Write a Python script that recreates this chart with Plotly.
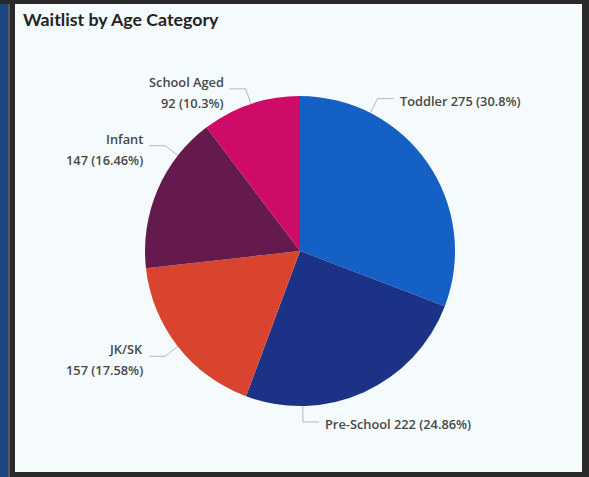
import math
import plotly.graph_objects as go

# Waitlist counts by age category (clockwise from 12 o'clock)
categories = ["Toddler", "Pre-School", "JK/SK", "Infant", "School Aged"]
waitlist = [275, 222, 157, 147, 92]
colors = ["#1460c4", "#1b3286", "#d9442f", "#641a4c", "#cf0b68"]

W, H = 589, 477
CX, CY, R = 300, 251, 155          # pie centre / radius in pixels
BG = "#f5fbfc"
LABEL_FONT = dict(family="Open Sans", size=12.8, color="#484848", weight=600)

# label layout: angle where the leader leaves the pie (deg clockwise from top),
# side the label sits on, and whether name and value share one line
label_layout = {
    "Toddler":     dict(angle=27,    side="right", one_line=True),
    "Pre-School":  dict(angle=179,   side="right", one_line=True),
    "JK/SK":       dict(angle=232,   side="left",  one_line=False),
    "Infant":      dict(angle=308,   side="left",  one_line=False),
    "School Aged": dict(angle=341.5, side="left",  one_line=False),
}


def px(x):
    return x / W


def py(y):
    return 1 - y / H


total = sum(waitlist)


def pct(v):
    return f"{100 * v / total:.2f}".rstrip("0").rstrip(".") + "%"


fig = go.Figure(
    go.Pie(
        labels=categories,
        values=waitlist,
        marker=dict(colors=colors, line=dict(width=0)),
        sort=False,
        direction="clockwise",
        rotation=0,
        textinfo="none",
        hoverinfo="label+value+percent",
        showlegend=False,
        domain=dict(x=[px(CX - R), px(CX + R)], y=[py(CY + R), py(CY - R)]),
    )
)

shapes = []
annotations = []

# leader lines and data labels
for name, val in zip(categories, waitlist):
    lay = label_layout[name]
    a = math.radians(lay["angle"])
    sx, sy = CX + R * math.sin(a), CY - R * math.cos(a)
    ex, ey = CX + (R + 16) * math.sin(a), CY - (R + 16) * math.cos(a)
    sign = 1 if lay["side"] == "right" else -1
    hx = ex + sign * 16
    shapes.append(dict(
        type="path", xref="paper", yref="paper",
        path=f"M {px(sx)},{py(sy)} L {px(ex)},{py(ey)} L {px(hx)},{py(ey)}",
        line=dict(color="#b4b8ba", width=1),
    ))
    tx = hx + sign * 4
    anchor = "left" if sign > 0 else "right"
    if lay["one_line"]:
        annotations.append(dict(
            x=px(tx), y=py(ey + 2), xref="paper", yref="paper",
            text=f"{name} {val} ({pct(val)})", showarrow=False,
            xanchor=anchor, yanchor="middle", font=LABEL_FONT,
        ))
    else:
        for i, line in enumerate([name, f"{val} ({pct(val)})"]):
            annotations.append(dict(
                x=px(tx), y=py(ey - 7 + 21 * i), xref="paper", yref="paper",
                text=line, showarrow=False, xanchor=anchor, yanchor="middle",
                font=LABEL_FONT, align="right",
            ))

# title
annotations.append(dict(
    x=px(21), y=py(19), xref="paper", yref="paper",
    text="<b>Waitlist by Age Category</b>", showarrow=False,
    xanchor="left", yanchor="middle",
    font=dict(family="Lato", size=17.8, color="#232323"),
))

# visual frame
def rect(x0, y0, x1, y1, color):
    return dict(type="rect", xref="paper", yref="paper",
                x0=px(x0), x1=px(x1), y0=py(y1), y1=py(y0),
                fillcolor=color, line=dict(width=0), layer="above")


shapes += [
    rect(0, 0, 8, H, "#1d4580"),
    rect(8, 0, 10, H, "#555a60"),
    rect(10, 0, 15, H, "#2a2a2a"),
    rect(0, 0, W, 4, "#2a2a2a"),
    rect(582, 0, W, H, "#2a2a2a"),
    rect(10, 472, W, H, "#2a2a2a"),
]

fig.update_layout(
    width=W, height=H,
    margin=dict(l=0, r=0, t=0, b=0),
    paper_bgcolor=BG, plot_bgcolor=BG,
    shapes=shapes, annotations=annotations,
)

fig.write_html("out.html")
